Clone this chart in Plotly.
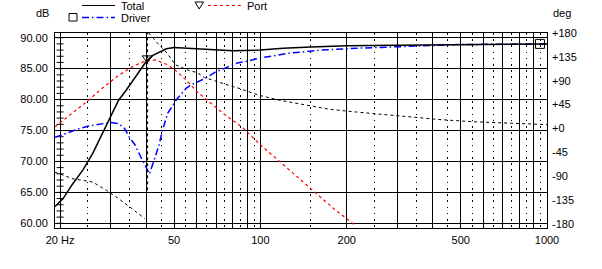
import plotly.graph_objects as go

# ---------------- data ----------------
freq_total = [19.2, 20.5, 22, 24, 26, 28, 30, 32, 34, 36, 38, 40, 42, 44, 47, 50, 55, 60, 70, 80,
              100, 120, 150, 200, 300, 500, 1000]
spl_total = [62.7, 64.0, 66.2, 68.6, 71.3, 74.4, 77.2, 79.9, 81.5, 83.2, 84.8, 86.2, 87.1, 87.6, 88.2,
             88.4, 88.3, 88.2, 88.0, 87.9, 88.0, 88.3, 88.5, 88.7, 88.8, 88.9, 89.0]

freq_port = [19.2, 22, 25, 28, 32, 36, 40, 43, 47, 50, 55, 60, 67, 74, 87, 101, 120, 150, 180, 215]
spl_port = [75.6, 77.8, 79.8, 81.8, 83.9, 85.4, 86.3, 86.4, 85.7, 84.9, 83.2, 81.3, 79.4, 77.8, 75.4,
            72.5, 69.5, 65.6, 62.4, 59.6]

freq_driver = [19.2, 21, 23, 25, 27.5, 30, 32, 33.5, 35, 36.5, 38, 39.5, 41, 42, 43, 44.2, 45.5, 47.5,
               51, 55, 58, 64, 70, 75, 83, 90, 99, 126, 164, 216, 282, 380, 500, 1000]
spl_driver = [73.9, 74.6, 75.2, 75.7, 76.0, 76.3, 76.1, 75.4, 73.8, 72.7, 71.0, 69.4, 68.0, 69.4, 71.0,
              72.5, 75.0, 77.8, 80.0, 81.8, 82.5, 83.4, 84.5, 85.1, 85.9, 86.2, 86.7, 87.5, 88.0, 88.3,
              88.5, 88.7, 88.9, 89.0]

freq_phase = [19.2, 20, 22, 24.7, 26, 29, 32, 35.6, 39.5, None, 40.8, 43.8, 47.3, 50.5, 56.9, 59.9,
              63.8, 70.2, 77, 84.8, 91.4, 99, 117, 145, 174, 216, 267, 333, 423, 551, 720, 915, 1000]
phase_deg = [-83, -86, -95, -99.5, -101.4, -117, -132.7, -151.6, -170.5, None, 180, 160.5, 141.7, 120,
             108.2, 105.8, 95.8, 88, 81.8, 75, 68.6, 62.4, 52.9, 43.5, 36, 30.8, 26, 21.4, 16.5, 12.5,
             10, 8, 7]

fb_marker_hz = [40.4, 40.4]
fb_marker_deg = [-117, 180]

port_marker = ([40.3], [86.7])
driver_marker = ([945], [89.0])

x_major = [20, 30, 40, 50, 60, 70, 80, 90, 100, 200, 300, 400, 500, 600, 700, 800, 900, 1000]
x_labels = {20: "20 Hz", 50: "50", 100: "100", 200: "200", 500: "500", 1000: "1000"}
x_minor = [25, 35, 45, 55, 65, 75, 85, 95, 150, 250, 350, 450, 550, 650, 750, 850, 950]
db_ticks = [60, 65, 70, 75, 80, 85, 90]
deg_ticks = [-180, -135, -90, -45, 0, 45, 90, 135, 180]
db_minor = list(range(60, 91))

# ---------------- layout helpers ----------------
W, H = 602, 269
ML, MR, MT, MB = 55, 55, 33, 41
PW, PH = W - ML - MR, H - MT - MB
FONT = "Liberation Sans, Arial, sans-serif"
BLUE_DASH = "7px,3px,1.5px,3px"


def px(x):
    return (x - ML) / PW


def py(y):
    return (H - MB - y) / PH


fig = go.Figure()

# 1 dB tick marks on the 20 Hz line
fig.add_trace(go.Scatter(x=[20] * len(db_minor), y=db_minor, mode="markers",
                         marker=dict(symbol="line-ew", size=5, line=dict(color="black", width=1)),
                         hoverinfo="skip"))

fig.add_trace(go.Scatter(x=freq_port, y=spl_port, mode="lines",
                         line=dict(color="#ff0000", width=1.2, dash="3px,3px")))
fig.add_trace(go.Scatter(x=freq_driver, y=spl_driver, mode="lines",
                         line=dict(color="#0000ff", width=1.5, dash=BLUE_DASH)))
fig.add_trace(go.Scatter(x=freq_phase, y=phase_deg, mode="lines", yaxis="y2", connectgaps=False,
                         line=dict(color="black", width=1, dash="3px,3px")))
fig.add_trace(go.Scatter(x=fb_marker_hz, y=fb_marker_deg, mode="lines", yaxis="y2",
                         line=dict(color="black", width=1, dash="3px,3px")))
fig.add_trace(go.Scatter(x=freq_total, y=spl_total, mode="lines",
                         line=dict(color="black", width=1.5)))
fig.add_trace(go.Scatter(x=port_marker[0], y=port_marker[1], mode="markers",
                         marker=dict(symbol="triangle-down-open", size=9, color="black",
                                     line=dict(width=1))))
fig.add_trace(go.Scatter(x=driver_marker[0], y=driver_marker[1], mode="markers",
                         marker=dict(symbol="square-open", size=9, color="black",
                                     line=dict(width=1))))

fig.update_layout(
    width=W, height=H,
    margin=dict(l=ML, r=MR, t=MT, b=MB, pad=0),
    paper_bgcolor="white", plot_bgcolor="white",
    showlegend=False, hovermode=False,
    font=dict(family=FONT, size=11, color="black"),
    xaxis=dict(
        type="log", range=[1.2833, 3.0],
        tickvals=x_major, ticktext=[x_labels.get(v, "") for v in x_major],
        showgrid=True, gridcolor="black", gridwidth=1,
        showline=True, mirror=True, linecolor="black", linewidth=1,
        ticks="", zeroline=False, ticklabelstandoff=2,
        minor=dict(tickvals=x_minor, showgrid=True, gridcolor="black", gridwidth=1,
                   griddash="1.5px,4.7px", ticks=""),
    ),
    yaxis=dict(
        range=[59.24, 90.76],
        tickvals=db_ticks, ticktext=["%.2f" % v for v in db_ticks],
        showgrid=True, gridcolor="black", gridwidth=1,
        showline=True, mirror=True, linecolor="black", linewidth=1,
        ticks="", zeroline=False, ticklabelstandoff=4,
    ),
    yaxis2=dict(
        range=[-188.2, 180], overlaying="y", side="right",
        tickvals=deg_ticks, ticktext=[("+%d" % v) if v >= 0 else str(v) for v in deg_ticks],
        showgrid=False, zeroline=False, showline=False, ticks="", ticklabelstandoff=4,
    ),
)

# axis unit labels
fig.add_annotation(x=px(42), y=py(13), xref="paper", yref="paper", text="dB", showarrow=False,
                   xanchor="center", yanchor="middle")
fig.add_annotation(x=px(562), y=py(13), xref="paper", yref="paper", text="deg", showarrow=False,
                   xanchor="center", yanchor="middle")

# manual legend
legend_items = [
    dict(x0=82, x1=115, y=5.5, color="black", dash="solid", width=1, text="Total", tx=118.5, ty=6),
    dict(x0=82, x1=115, y=17.5, color="#0000ff", dash=BLUE_DASH, width=1.5, text="Driver",
         tx=118.5, ty=17.5),
    dict(x0=208, x1=241, y=5.5, color="#ff0000", dash="3px,3px", width=1, text="Port", tx=244.5, ty=6),
]
for it in legend_items:
    fig.add_shape(type="line", xref="paper", yref="paper", x0=px(it["x0"]), x1=px(it["x1"]),
                  y0=py(it["y"]), y1=py(it["y"]),
                  line=dict(color=it["color"], width=it["width"], dash=it["dash"]))
    fig.add_annotation(x=px(it["tx"]), y=py(it["ty"]), xref="paper", yref="paper", text=it["text"],
                       showarrow=False, xanchor="left", yanchor="middle")

fig.add_shape(type="rect", xref="paper", yref="paper", x0=px(69), x1=px(77), y0=py(13.5), y1=py(21),
              line=dict(color="black", width=1))
fig.add_shape(type="path", xref="paper", yref="paper",
              path="M %f %f L %f %f L %f %f Z" % (px(195), py(2), px(203.5), py(2), px(199.2), py(9)),
              line=dict(color="black", width=1))

fig.write_html("out.html")
